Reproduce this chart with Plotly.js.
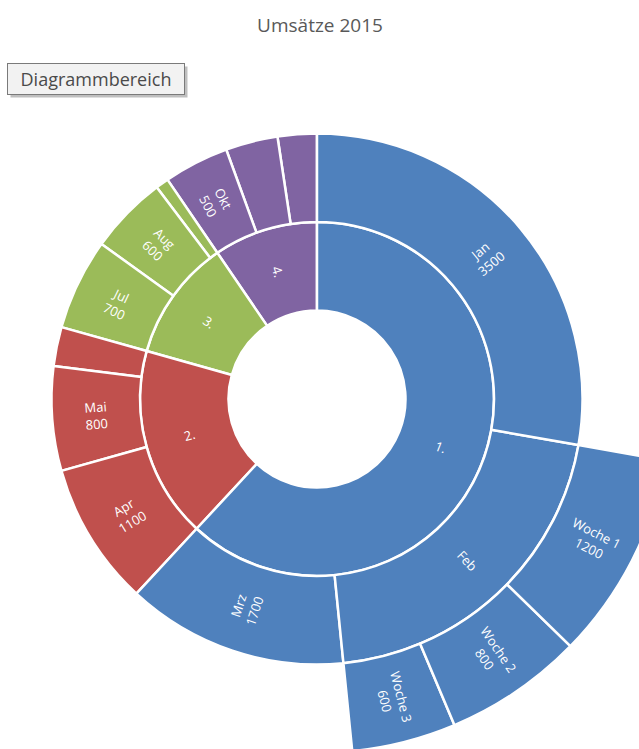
<!DOCTYPE html>
<html>
<head>
<meta charset="utf-8">
<script src="https://cdn.plot.ly/plotly-3.0.1.min.js"></script>
<style>
html, body { margin: 0; padding: 0; overflow: hidden; background: #ffffff; width: 639px; height: 749px; }
#chart { position: absolute; left: -37px; top: 0px; width: 708px; height: 753px; }
</style>
</head>
<body>
<div id="chart"></div>
<script>
// ---- data ----
var chartTitle = 'Umsätze 2015';
var rootLabel = 'Gesamt';
var quarters = ['1.', '2.', '3.', '4.'];
var quarterColors = ['#4F81BD', '#C0504D', '#9BBB59', '#8064A2'];
var months = ['Jan', 'Feb', 'Mrz', 'Apr', 'Mai', 'Jun', 'Jul', 'Aug', 'Sep', 'Okt', 'Nov', 'Dez'];
var monthQuarter = ['1.', '1.', '1.', '2.', '2.', '2.', '3.', '3.', '3.', '4.', '4.', '4.'];
var monthValues = [3500, 0, 1700, 1100, 800, 300, 700, 600, 100, 500, 400, 300];
var weeks = ['Woche 1', 'Woche 2', 'Woche 3'];
var weekMonth = ['Feb', 'Feb', 'Feb'];
var weekValues = [1200, 800, 600];
var unlabeled = ['Jun', 'Sep', 'Nov', 'Dez'];

// ---- build hierarchy (reversed, so the slices run clockwise from 12 o'clock) ----
var ids = [], labels = [], parents = [], values = [], colors = [], labelText = {};
function weekTotal(m) {
  var s = 0;
  for (var i = 0; i < weeks.length; i++) if (weekMonth[i] === m) s += weekValues[i];
  return s;
}
function monthTotal(i) {
  var w = weekTotal(months[i]);
  return w > 0 ? w : monthValues[i];
}
var grand = 0;
for (var i = 0; i < months.length; i++) grand += monthTotal(i);

ids.push('root'); labels.push(rootLabel); parents.push(''); values.push(grand);
colors.push('#ffffff'); labelText['root'] = '';

for (var q = quarters.length - 1; q >= 0; q--) {
  var qs = 0;
  for (var i = 0; i < months.length; i++) if (monthQuarter[i] === quarters[q]) qs += monthTotal(i);
  var qid = 'Q' + quarters[q];
  ids.push(qid); labels.push(quarters[q]); parents.push('root'); values.push(qs);
  colors.push(quarterColors[q]); labelText[qid] = quarters[q];
  for (var m = months.length - 1; m >= 0; m--) {
    if (monthQuarter[m] !== quarters[q]) continue;
    var hasWeeks = weekTotal(months[m]) > 0;
    var mid = 'M' + months[m];
    ids.push(mid); labels.push(months[m]); parents.push(qid);
    values.push(monthTotal(m)); colors.push(quarterColors[q]);
    if (unlabeled.indexOf(months[m]) >= 0) labelText[mid] = '';
    else if (hasWeeks) labelText[mid] = months[m];
    else labelText[mid] = months[m] + '<br>' + monthTotal(m);
    for (var w = weeks.length - 1; w >= 0; w--) {
      if (weekMonth[w] !== months[m]) continue;
      var wid = 'W' + weeks[w];
      ids.push(wid); labels.push(weeks[w]); parents.push(mid);
      values.push(weekValues[w]); colors.push(quarterColors[q]);
      labelText[wid] = weeks[w] + '<br>' + weekValues[w];
    }
  }
}

// ---- geometry helpers (page px -> paper) ----
var DIV_LEFT = -37, PLOT_TOP = 45, PLOT_W = 708, PLOT_H = 708, DIV_W = 708, DIV_H = 753;
function px2x(px) { return (px - DIV_LEFT) / PLOT_W; }
function py2y(py) { return 1 - (py - PLOT_TOP) / PLOT_H; }
var FONT = 'Open Sans, Noto Sans, sans-serif';

var trace = {
  type: 'sunburst',
  ids: ids, labels: labels, parents: parents, values: values,
  branchvalues: 'total',
  sort: false,
  rotation: 90,
  textinfo: 'none',
  marker: { colors: colors, line: { color: '#ffffff', width: 2.5 } },
  leaf: { opacity: 1 },
  hoverinfo: 'none',
  domain: { x: [0, 1], y: [0, 1] }
};

var baseAnnotations = [
  {
    xref: 'paper', yref: 'paper', x: px2x(99), y: py2y(82),
    xanchor: 'center', yanchor: 'middle', text: ' ', showarrow: false,
    width: 172, height: 26, borderpad: 2, borderwidth: 1,
    bgcolor: 'rgba(0,0,0,0.25)', bordercolor: 'rgba(0,0,0,0)'
  },
  {
    xref: 'paper', yref: 'paper', x: px2x(96), y: py2y(79),
    xanchor: 'center', yanchor: 'middle', text: 'Diagrammbereich', showarrow: false,
    width: 172, height: 26, borderpad: 2, borderwidth: 1,
    bgcolor: '#f2f2f2', bordercolor: '#7a7a7a',
    font: { family: FONT, size: 18, color: '#4a4a4a' }
  }
];

var layout = {
  width: DIV_W, height: DIV_H,
  margin: { l: 0, r: 0, t: PLOT_TOP, b: DIV_H - PLOT_TOP - PLOT_H },
  paper_bgcolor: '#ffffff',
  showlegend: false,
  title: {
    text: chartTitle,
    font: { family: FONT, size: 19, color: '#595959' },
    xref: 'container', yref: 'container',
    x: (320 - DIV_LEFT) / DIV_W, xanchor: 'center',
    y: 1 - 25 / DIV_H, yanchor: 'middle'
  },
  annotations: baseAnnotations
};

var gd = document.getElementById('chart');
Plotly.newPlot(gd, [trace], layout, { staticPlot: true, displayModeBar: false }).then(function () {
  // place labels Excel-style: centred in each slice, oriented radially
  var fl = gd._fullLayout, gs = fl._size;
  var cd0 = gd.calcdata && gd.calcdata[0] && gd.calcdata[0][0];
  var cx = (cd0 && cd0.cx != null) ? cd0.cx : gs.l + gs.w / 2;
  var cy = (cd0 && cd0.cy != null) ? cd0.cy : gs.t + gs.h / 2;
  var rMax = Math.min(gs.w, gs.h) / 2;
  var anns = baseAnnotations.slice();
  var slices = gd.querySelectorAll('g.slice');
  for (var k = 0; k < slices.length; k++) {
    var pt = slices[k].__data__;
    if (!pt) continue;
    var id = (pt.data && pt.data.data && pt.data.data.id) || (pt.data && pt.data.id) || pt.id;
    var txt = labelText[id];
    if (!txt) continue;
    var r0 = (pt.rpx0 != null) ? pt.rpx0 : pt.y0 / 4 * rMax;
    var r1 = (pt.rpx1 != null) ? pt.rpx1 : pt.y1 / 4 * rMax;
    var xm = (pt.x0 + pt.x1) / 2;
    var rm = (r0 + r1) / 2;
    var px = cx + rm * Math.cos(xm);
    var py = cy - rm * Math.sin(xm);
    var rot = -xm * 180 / Math.PI;
    while (rot > 180) rot -= 360;
    while (rot <= -180) rot += 360;
    if (rot > 90) rot -= 180;
    if (rot < -90) rot += 180;
    anns.push({
      xref: 'paper', yref: 'paper',
      x: (px - gs.l) / gs.w, y: 1 - (py - gs.t) / gs.h,
      xanchor: 'center', yanchor: 'middle', showarrow: false,
      text: txt, textangle: rot,
      font: { family: FONT, size: 13, color: '#ffffff' }
    });
  }
  return Plotly.relayout(gd, { annotations: anns });
});
</script>
</body>
</html>
